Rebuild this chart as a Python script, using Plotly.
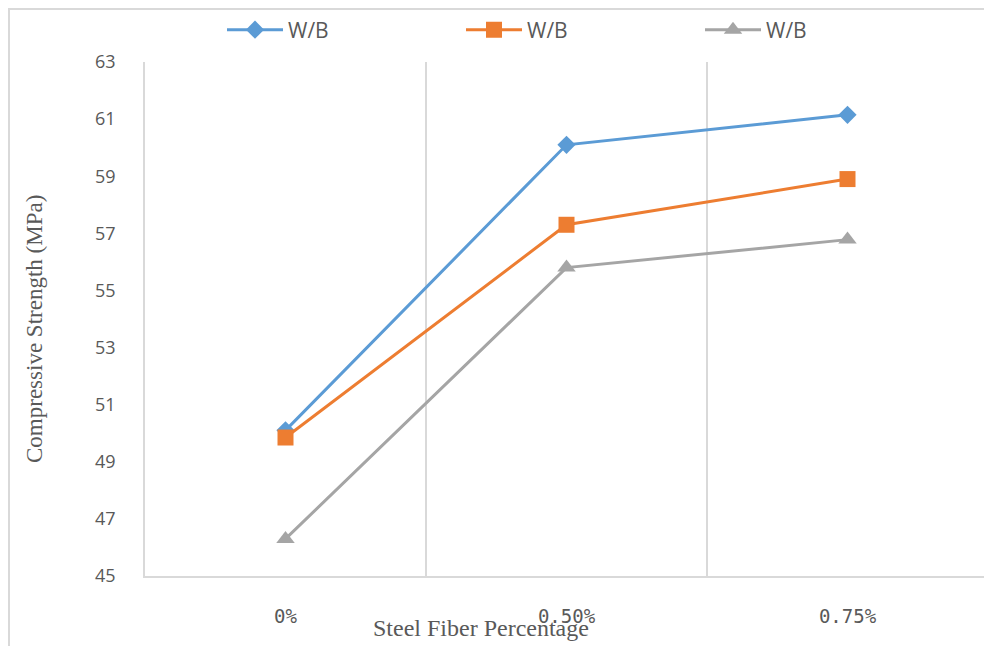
import plotly.graph_objects as go

categories = ["0%", "0.50%", "0.75%"]
series_names = ["W/B", "W/B", "W/B"]
wb_a = [50.1, 60.1, 61.15]
wb_b = [49.85, 57.3, 58.9]
wb_c = [46.3, 55.8, 56.78]

colors = ["#5B9BD5", "#ED7D31", "#A5A5A5"]
symbols = ["diamond", "square", "triangle-up"]
sizes = [14, 16, 16]

# page has an 8px body margin: work in page pixels and convert
OFF = 8
W, H = 992 - OFF, 646 - OFF
L, R, T, B = 145 - OFF, 988 - OFF, 62 - OFF, 576 - OFF
PW, PH = R - L, B - T


def px(xp):
    return (xp - OFF - L) / PW


def py(yp):
    return (B - (yp - OFF)) / PH


fig = go.Figure()
for name, vals, c, s, sz in zip(series_names, [wb_a, wb_b, wb_c], colors, symbols, sizes):
    fig.add_trace(go.Scatter(
        x=categories, y=vals, name=name, mode="lines+markers",
        line=dict(color=c, width=3),
        marker=dict(symbol=s, size=sz, color=c),
    ))

fig.update_layout(
    width=W, height=H,
    margin=dict(l=L, r=W - R, t=T, b=H - B, autoexpand=False),
    paper_bgcolor="white", plot_bgcolor="white",
    showlegend=True,
    legend=dict(orientation="h", x=px(222), xanchor="left",
                y=1 - (30 - OFF) / H, yanchor="middle", yref="container",
                entrywidth=168, entrywidthmode="pixels",
                font=dict(family="Open Sans, Liberation Sans", size=21, color="#595959"),
                itemwidth=56, bgcolor="rgba(0,0,0,0)"),
    xaxis=dict(
        type="category", range=[-0.5, 2.5], tickson="boundaries",
        showgrid=True, gridcolor="#D9D9D9", gridwidth=1.5,
        showline=True, linecolor="#D9D9D9", linewidth=1.5,
        ticks="", ticklabelstandoff=22, automargin=False,
        tickfont=dict(family="DejaVu Sans Mono", size=19, color="#595959"),
        zeroline=False,
    ),
    yaxis=dict(
        range=[45, 63], dtick=2, tick0=45,
        showgrid=False, zeroline=False, automargin=False,
        showline=True, linecolor="#D9D9D9", linewidth=1.5,
        ticks="", ticklabelstandoff=24,
        tickfont=dict(family="Open Sans, Liberation Sans", size=18, color="#595959"),
    ),
    annotations=[
        dict(text="Steel Fiber Percentage", xref="paper", yref="paper",
             x=px(481), y=py(628), xanchor="center", yanchor="middle",
             showarrow=False,
             font=dict(family="Liberation Serif, Times New Roman", size=24, color="#595959")),
        dict(text="Compressive Strength (MPa)", xref="paper", yref="paper",
             x=px(35), y=py(329), xanchor="center", yanchor="middle",
             textangle=-90, showarrow=False,
             font=dict(family="Liberation Serif, Times New Roman", size=23, color="#595959")),
    ],
    shapes=[
        dict(type="line", xref="paper", yref="paper",
             x0=px(8), x1=px(1000), y0=py(9), y1=py(9),
             line=dict(color="#D9D9D9", width=2)),
        dict(type="line", xref="paper", yref="paper",
             x0=px(9), x1=px(9), y0=py(9), y1=py(660),
             line=dict(color="#D9D9D9", width=2)),
    ],
)

fig.write_html("out.html")
